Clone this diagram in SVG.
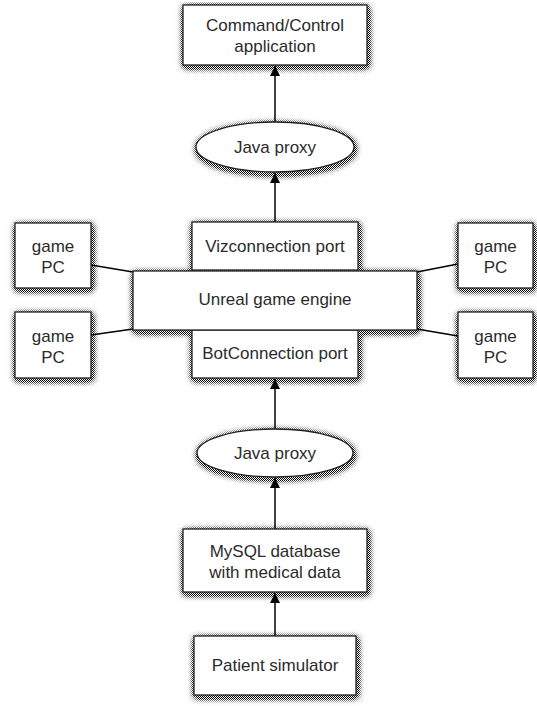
<svg xmlns="http://www.w3.org/2000/svg" width="537" height="706" viewBox="0 0 537 706">
<style>
.box{fill:#fff;stroke:#222;stroke-width:1.3}
.sh{fill:#fff}
text{font-family:"Liberation Sans",Arial,sans-serif;font-size:17px;fill:#2b2b2b;text-anchor:middle}
.conn{stroke:#000;stroke-width:1.5;fill:none}
.arrow{marker-end:url(#ah)}
</style>
<defs>
<marker id="ah" markerUnits="userSpaceOnUse" markerWidth="10" markerHeight="10" refX="10" refY="5" orient="auto">
<path d="M0,0 L10,5 L0,10 z" fill="#000"/>
</marker>
<pattern id="dots" width="2" height="2" patternUnits="userSpaceOnUse">
<rect width="1" height="1" fill="#000"/><rect x="1" y="1" width="1" height="1" fill="#000"/>
</pattern>
<filter id="blur" filterUnits="userSpaceOnUse" x="0" y="0" width="537" height="706">
<feGaussianBlur stdDeviation="3.5"/>
<feOffset dx="1" dy="2"/>
<feComponentTransfer><feFuncA type="linear" slope="3.2"/></feComponentTransfer>
</filter>
<mask id="haloMask" maskUnits="userSpaceOnUse" x="0" y="0" width="537" height="706">
<g class="sh" filter="url(#blur)">
<rect x="183" y="5" width="184" height="60"/>
<ellipse cx="275" cy="147" rx="79" ry="25"/>
<rect x="192" y="222" width="166" height="48"/>
<rect x="133" y="271" width="284" height="59"/>
<rect x="192" y="330" width="166" height="48"/>
<rect x="15" y="223" width="76" height="65"/>
<rect x="15" y="312" width="76" height="66"/>
<rect x="458" y="223" width="75" height="65"/>
<rect x="458" y="312" width="75" height="66"/>
<ellipse cx="275" cy="453" rx="78" ry="24"/>
<rect x="183" y="529" width="184" height="63"/>
<rect x="194" y="636" width="162" height="59"/>
</g>
</mask>
</defs>
<rect width="537" height="706" fill="#fff"/>
<rect id="shadows" width="537" height="706" fill="url(#dots)" mask="url(#haloMask)"/>
<g id="connectors">
<line class="conn arrow" x1="275" y1="636" x2="275" y2="593"/>
<line class="conn arrow" x1="275" y1="529" x2="275" y2="478"/>
<line class="conn arrow" x1="275" y1="429" x2="275" y2="379"/>
<line class="conn arrow" x1="275" y1="222" x2="275" y2="173"/>
<line class="conn arrow" x1="275" y1="122" x2="275" y2="66"/>
<line class="conn" x1="91" y1="265" x2="133" y2="272"/>
<line class="conn" x1="91" y1="335" x2="133" y2="329"/>
<line class="conn" x1="417" y1="272" x2="458" y2="264"/>
<line class="conn" x1="417" y1="329" x2="458" y2="336"/>
</g>
<g id="cmd"><rect class="box" x="183" y="5" width="184" height="60"/><text x="275" y="31">Command/Control</text><text x="275" y="52">application</text></g>
<g id="java1"><ellipse class="box" cx="275" cy="147" rx="79" ry="25"/><text x="275" y="153">Java proxy</text></g>
<g id="viz"><rect class="box" x="192" y="222" width="166" height="48"/><text x="275" y="252">Vizconnection port</text></g>
<g id="bot"><rect class="box" x="192" y="330" width="166" height="48"/><text x="275" y="359">BotConnection port</text></g>
<g id="engine"><rect class="box" x="133" y="271" width="284" height="59"/><text x="275" y="305">Unreal game engine</text></g>
<g id="pc1"><rect class="box" x="15" y="223" width="76" height="65"/><text x="53" y="252">game</text><text x="53" y="273">PC</text></g>
<g id="pc2"><rect class="box" x="15" y="312" width="76" height="66"/><text x="53" y="342">game</text><text x="53" y="363">PC</text></g>
<g id="pc3"><rect class="box" x="458" y="223" width="75" height="65"/><text x="495.5" y="252">game</text><text x="495.5" y="273">PC</text></g>
<g id="pc4"><rect class="box" x="458" y="312" width="75" height="66"/><text x="495.5" y="342">game</text><text x="495.5" y="363">PC</text></g>
<g id="java2"><ellipse class="box" cx="275" cy="453" rx="78" ry="24"/><text x="275" y="459">Java proxy</text></g>
<g id="mysql"><rect class="box" x="183" y="529" width="184" height="63"/><text x="275" y="557">MySQL database</text><text x="275" y="578">with medical data</text></g>
<g id="patient"><rect class="box" x="194" y="636" width="162" height="59"/><text x="275" y="671">Patient simulator</text></g>
</svg>
